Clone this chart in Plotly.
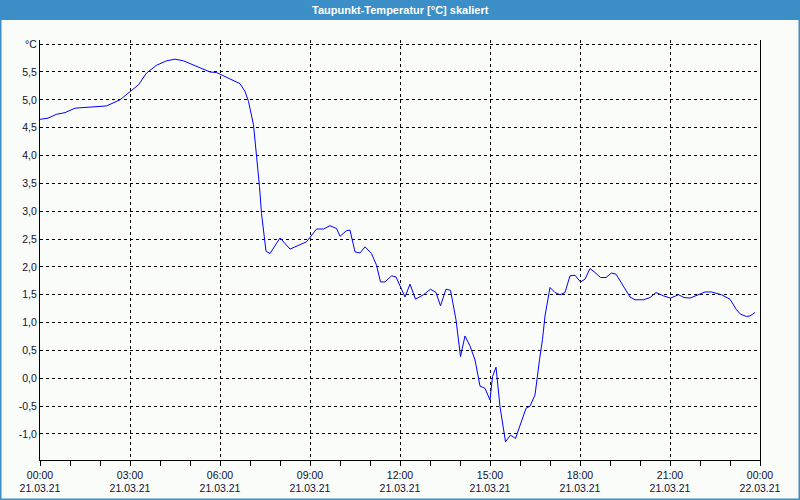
import plotly.graph_objects as go

# ---- data ----
times = [
    "00:00", "00:16", "00:33", "00:50", "01:10", "01:57", "02:13", "02:40", "03:00", "03:17",
    "03:33", "03:53", "04:13", "04:30", "04:47", "05:07", "05:27", "05:40", "05:53", "06:13",
    "06:40", "06:50", "06:57", "07:07", "07:13", "07:19", "07:23", "07:30", "07:32", "07:40",
    "08:00", "08:20", "08:53", "09:13", "09:27", "09:40", "09:53", "10:00", "10:13", "10:20",
    "10:30", "10:40", "10:50", "11:03", "11:13", "11:21", "11:30", "11:43", "11:52", "12:10",
    "12:20", "12:31", "12:47", "13:01", "13:12", "13:21", "13:32", "13:41", "13:52", "14:01",
    "14:10", "14:20", "14:30", "14:40", "14:50", "15:00", "15:05", "15:12", "15:20", "15:31",
    "15:41", "15:51", "16:00", "16:12", "16:20", "16:30", "16:39", "16:45", "16:50", "17:00",
    "17:10", "17:20", "17:30", "17:40", "17:50", "18:01", "18:10", "18:20", "18:30", "18:41",
    "18:52", "19:03", "19:12", "19:23", "19:40", "19:50", "20:07", "20:20", "20:32", "20:47",
    "21:01", "21:17", "21:28", "21:40", "21:57", "22:10", "22:23", "22:30", "22:43", "23:00",
    "23:13", "23:21", "23:33", "23:40", "23:50",
]
dew_point = [
    4.65, 4.67, 4.74, 4.77, 4.85, 4.87, 4.89, 5.00, 5.15, 5.27,
    5.48, 5.62, 5.70, 5.73, 5.70, 5.62, 5.55, 5.50, 5.49, 5.40,
    5.29, 5.15, 4.97, 4.55, 4.04, 3.44, 2.96, 2.48, 2.28, 2.24,
    2.52, 2.32, 2.45, 2.68, 2.68, 2.74, 2.69, 2.55, 2.65, 2.66,
    2.27, 2.25, 2.36, 2.24, 2.03, 1.73, 1.73, 1.84, 1.82, 1.46,
    1.69, 1.42, 1.50, 1.60, 1.54, 1.30, 1.60, 1.58, 1.05, 0.39,
    0.76, 0.58, 0.33, -0.14, -0.18, -0.39, 0.03, 0.20, -0.51, -1.14,
    -1.02, -1.08, -0.84, -0.54, -0.50, -0.30, 0.33, 0.70, 1.12, 1.63,
    1.54, 1.50, 1.54, 1.84, 1.85, 1.73, 1.78, 1.97, 1.90, 1.81,
    1.81, 1.89, 1.87, 1.71, 1.46, 1.41, 1.41, 1.45, 1.54, 1.48,
    1.44, 1.50, 1.45, 1.44, 1.51, 1.55, 1.55, 1.53, 1.50, 1.42,
    1.23, 1.15, 1.11, 1.12, 1.18,
]
x_tick_hours = ["00:00", "03:00", "06:00", "09:00", "12:00", "15:00", "18:00", "21:00"]
x_tick_dates = ["21.03.21"] * 8 + ["22.03.21"]
y_tick_vals = [-1.0, -0.5, 0.0, 0.5, 1.0, 1.5, 2.0, 2.5, 3.0, 3.5, 4.0, 4.5, 5.0, 5.5, 6.0]
y_tick_text = ["-1,0", "-0,5", "0,0", "0,5", "1,0", "1,5", "2,0", "2,5", "3,0", "3,5",
               "4,0", "4,5", "5,0", "5,5", "°C"]
title_text = "Taupunkt-Temperatur [°C] skaliert"

# ---- figure ----
x_dt = ["2021-03-21 " + t for t in times]
x_tick_vals = ["2021-03-21 " + h for h in x_tick_hours] + ["2021-03-22 00:00"]
x_tick_text = [h + "<br>" + d for h, d in zip(x_tick_hours + ["00:00"], x_tick_dates)]

W, H = 800, 500
ML, MR, MT, MB = 40, 40, 40, 40
PW, PH = W - ML - MR, H - MT - MB

fig = go.Figure()
fig.add_trace(go.Scatter(x=x_dt, y=dew_point, mode="lines",
                         line=dict(color="#0000ff", width=1), hoverinfo="skip"))

tick_font = dict(family="Liberation Sans", size=10.5, color="#10102a")
grid = dict(showgrid=True, gridcolor="#000000", gridwidth=1, griddash="3px,3px")

fig.update_layout(
    width=W, height=H,
    margin=dict(l=ML, r=MR, t=MT, b=MB, autoexpand=False),
    paper_bgcolor="#fafcfa", plot_bgcolor="#fafcfa",
    showlegend=False,
    xaxis=dict(type="date", range=["2021-03-21 00:00", "2021-03-22 00:00"],
               tickvals=x_tick_vals, ticktext=x_tick_text, tickfont=tick_font,
               ticks="outside", ticklen=5, tickcolor="#000000", ticklabelstandoff=0,
               automargin=False,
               minor=dict(dtick=3600000, ticks="outside", ticklen=5, tickcolor="#000000", showgrid=False),
               showline=True, linecolor="#000000", linewidth=1, mirror=False,
               zeroline=False, **grid),
    yaxis=dict(range=[-1.467, 6.074], tickvals=y_tick_vals, ticktext=y_tick_text,
               tickfont=tick_font, ticks="", showline=True, linecolor="#000000",
               automargin=False,
               linewidth=1, mirror=True, zeroline=False, **grid),
)

# window frame and title bar
fx0, fx1 = -ML / PW, 1 + MR / PW
fy0, fy1 = -MB / PH, 1 + MT / PH
fig.add_shape(type="rect", xref="paper", yref="paper",
              x0=fx0, x1=fx1, y0=1 + (MT - 20) / PH, y1=fy1,
              fillcolor="#3c8fc6", line=dict(width=0), layer="above")
fig.add_shape(type="rect", xref="paper", yref="paper",
              x0=fx0 + 0.5 / PW, x1=fx1 - 0.5 / PW, y0=fy0 + 0.5 / PH, y1=fy1 - 0.5 / PH,
              line=dict(color="#3c8fc6", width=2), layer="above")
fig.add_annotation(text="<b>" + title_text + "</b>", xref="paper", yref="paper",
                   x=0.5, y=1 + (MT - 10) / PH, xanchor="center", yanchor="middle",
                   showarrow=False, font=dict(family="Liberation Sans", size=11, color="#ffffff"))

fig.write_html("out.html")
